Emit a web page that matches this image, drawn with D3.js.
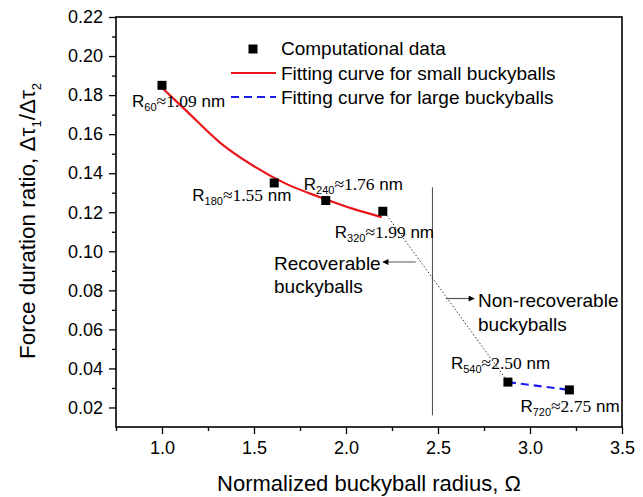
<!DOCTYPE html>
<html>
<head>
<meta charset="utf-8">
<script src="https://cdn.jsdelivr.net/npm/d3@7/dist/d3.min.js"></script>
<style>
  html, body { margin: 0; padding: 0; background: #fff; }
  svg { display: block; }
  text { font-family: "Liberation Sans", Arial, sans-serif; }
</style>
</head>
<body>
<svg id="chart" width="643" height="497"></svg>
<script>
// ---- data ----
const radiusOmega = [1.0, 1.61, 1.89, 2.2, 2.88, 3.214];
const durationRatio = [0.185, 0.135, 0.126, 0.1205, 0.033, 0.029];
const pointAtoms = ["60", "180", "240", "320", "540", "720"];
const pointRadiusNm = ["1.09", "1.55", "1.76", "1.99", "2.50", "2.75"];

// small-buckyball fitting curve
const fitSmallX = [1.0, 1.134, 1.315, 1.496, 1.678, 1.859, 2.04, 2.194];
const fitSmallY = [0.1838, 0.1718, 0.1557, 0.1438, 0.1344, 0.1277, 0.1217, 0.1175];
// large-buckyball fitting curve
const fitLargeX = [2.88, 3.214];
const fitLargeY = [0.033, 0.029];

const xTicks = [1.0, 1.5, 2.0, 2.5, 3.0, 3.5];
const xMinorTicks = [0.75, 1.25, 1.75, 2.25, 2.75, 3.25];
const yTicks = [0.02, 0.04, 0.06, 0.08, 0.10, 0.12, 0.14, 0.16, 0.18, 0.20, 0.22];
const yMinorTicks = [0.03, 0.05, 0.07, 0.09, 0.11, 0.13, 0.15, 0.17, 0.19, 0.21];

const boundaryOmega = 2.47;

// ---- layout ----
const svg = d3.select("#chart");
const L = 116, R = 622, T = 17, B = 427;
const x = d3.scaleLinear().domain([0.75, 3.5]).range([L, R]);
const y = d3.scaleLinear().domain([0.01, 0.22]).range([B, T]);

// axes
const xAxis = d3.axisBottom(x).tickValues(xTicks).tickFormat(d3.format(".1f")).tickSizeInner(7).tickSizeOuter(0).tickPadding(7);
const xMinor = d3.axisBottom(x).tickValues(xMinorTicks).tickFormat("").tickSizeInner(4).tickSizeOuter(0);
const yAxis = d3.axisLeft(y).tickValues(yTicks).tickFormat(d3.format(".2f")).tickSizeInner(7).tickSizeOuter(0).tickPadding(6);
const yMinor = d3.axisLeft(y).tickValues(yMinorTicks).tickFormat("").tickSizeInner(4).tickSizeOuter(0);

function styleAxis(g) {
  g.select(".domain").remove();
  g.selectAll(".tick line").attr("stroke", "#000").attr("stroke-width", 1.3);
  g.selectAll(".tick text").attr("fill", "#000").style("font-size", "18px").style("font-family", "'Liberation Sans', Arial, sans-serif");
}
svg.append("g").attr("transform", `translate(0,${B})`).call(xAxis).call(styleAxis);
svg.append("g").attr("transform", `translate(0,${B})`).call(xMinor).call(styleAxis);
svg.append("g").attr("transform", `translate(${L},0)`).call(yAxis).call(styleAxis);
svg.append("g").attr("transform", `translate(${L},0)`).call(yMinor).call(styleAxis);

// frame
svg.append("rect").attr("x", L).attr("y", T).attr("width", R - L).attr("height", B - T)
  .attr("fill", "none").attr("stroke", "#000").attr("stroke-width", 1.6);

// axis titles
svg.append("text").attr("x", 369).attr("y", 491).attr("text-anchor", "middle")
  .style("font-size", "22px").text("Normalized buckyball radius, \u03A9");

const yl = svg.append("text").attr("transform", "translate(35,221) rotate(-90)").attr("text-anchor", "middle")
  .style("font-size", "22.5px");
yl.append("tspan").text("Force duration ratio,  \u0394\u03C4");
yl.append("tspan").attr("dy", 6).style("font-size", "13px").text("1");
yl.append("tspan").attr("dy", -6).text("/\u0394\u03C4");
yl.append("tspan").attr("dy", 6).style("font-size", "13px").text("2");

// boundary line
svg.append("line").attr("x1", x(boundaryOmega)).attr("x2", x(boundaryOmega))
  .attr("y1", y(0.1328)).attr("y2", y(0.016)).attr("stroke", "#555").attr("stroke-width", 1.1);

// dotted connector between 320 and 540
svg.append("line").attr("x1", x(radiusOmega[3]) + 4).attr("y1", y(durationRatio[3]) + 4)
  .attr("x2", x(radiusOmega[4]) - 2).attr("y2", y(durationRatio[4]) - 3)
  .attr("stroke", "#333").attr("stroke-width", 1).attr("stroke-dasharray", "1.5,2");

// fitting curves
const line = d3.line().x(d => x(d[0])).y(d => y(d[1])).curve(d3.curveMonotoneX);
svg.append("path").datum(fitSmallX.map((v, i) => [v, fitSmallY[i]])).attr("d", line)
  .attr("fill", "none").attr("stroke", "#e8161b").attr("stroke-width", 2.2);
svg.append("path").datum(fitLargeX.map((v, i) => [v, fitLargeY[i]])).attr("d", line)
  .attr("fill", "none").attr("stroke", "#1c1cf0").attr("stroke-width", 2.2).attr("stroke-dasharray", "8,5");

// points
const S = 9;
svg.append("g").selectAll("rect").data(radiusOmega.map((v, i) => [v, durationRatio[i]])).join("rect")
  .attr("x", d => x(d[0]) - S / 2).attr("y", d => y(d[1]) - S / 2).attr("width", S).attr("height", S).attr("fill", "#000");

// point labels
const labelOffsets = [[-30, 22], [-82, 18], [-22, -11], [-48, 27], [-57, -13], [-49, 22]];
radiusOmega.forEach((v, i) => {
  const t = svg.append("text").attr("x", x(v) + labelOffsets[i][0]).attr("y", y(durationRatio[i]) + labelOffsets[i][1])
    .style("font-size", "17px");
  t.append("tspan").text("R");
  t.append("tspan").attr("dy", 4).style("font-size", "11px").text(pointAtoms[i]);
  t.append("tspan").attr("dy", -4).style("font-family", "'Liberation Serif', 'Times New Roman', serif").style("font-size", "17.5px").text("\u2248" + pointRadiusNm[i]);
  t.append("tspan").text(" nm");
});

// region annotations
const defs = svg.append("defs");
defs.append("marker").attr("id", "arr").attr("viewBox", "0 0 10 10").attr("refX", 9).attr("refY", 5)
  .attr("markerWidth", 10).attr("markerHeight", 6).attr("markerUnits", "userSpaceOnUse").attr("orient", "auto")
  .append("path").attr("d", "M0,0 L10,5 L0,10 z").attr("fill", "#000");

svg.append("line").attr("x1", x(2.379)).attr("x2", x(2.201)).attr("y1", y(0.0945)).attr("y2", y(0.0945))
  .attr("stroke", "#555").attr("stroke-width", 1.2).attr("marker-end", "url(#arr)");
svg.append("line").attr("x1", x(2.543)).attr("x2", x(2.696)).attr("y1", y(0.0758)).attr("y2", y(0.0758))
  .attr("stroke", "#555").attr("stroke-width", 1.2).attr("marker-end", "url(#arr)");

const ann = [["Recoverable", 274, 270], ["buckyballs", 274, 293], ["Non-recoverable", 478, 307], ["buckyballs", 478, 331]];
svg.append("g").selectAll("text").data(ann).join("text")
  .attr("x", d => d[1]).attr("y", d => d[2]).style("font-size", "19px").text(d => d[0]);

// legend
const lg = svg.append("g");
lg.append("rect").attr("x", 253 - S / 2).attr("y", 49 - S / 2).attr("width", S).attr("height", S).attr("fill", "#000");
lg.append("line").attr("x1", 231).attr("x2", 276).attr("y1", 73).attr("y2", 73).attr("stroke", "#e8161b").attr("stroke-width", 2.2);
lg.append("line").attr("x1", 231).attr("x2", 276).attr("y1", 97).attr("y2", 97).attr("stroke", "#1c1cf0").attr("stroke-width", 2.2).attr("stroke-dasharray", "8,5");
const legendTexts = ["Computational data", "Fitting curve for small buckyballs", "Fitting curve for large buckyballs"];
lg.selectAll("text.lt").data(legendTexts).join("text").attr("class", "lt")
  .attr("x", 281).attr("y", (d, i) => 55 + i * 24.5).style("font-size", "19px").text(d => d);
</script>
</body>
</html>
